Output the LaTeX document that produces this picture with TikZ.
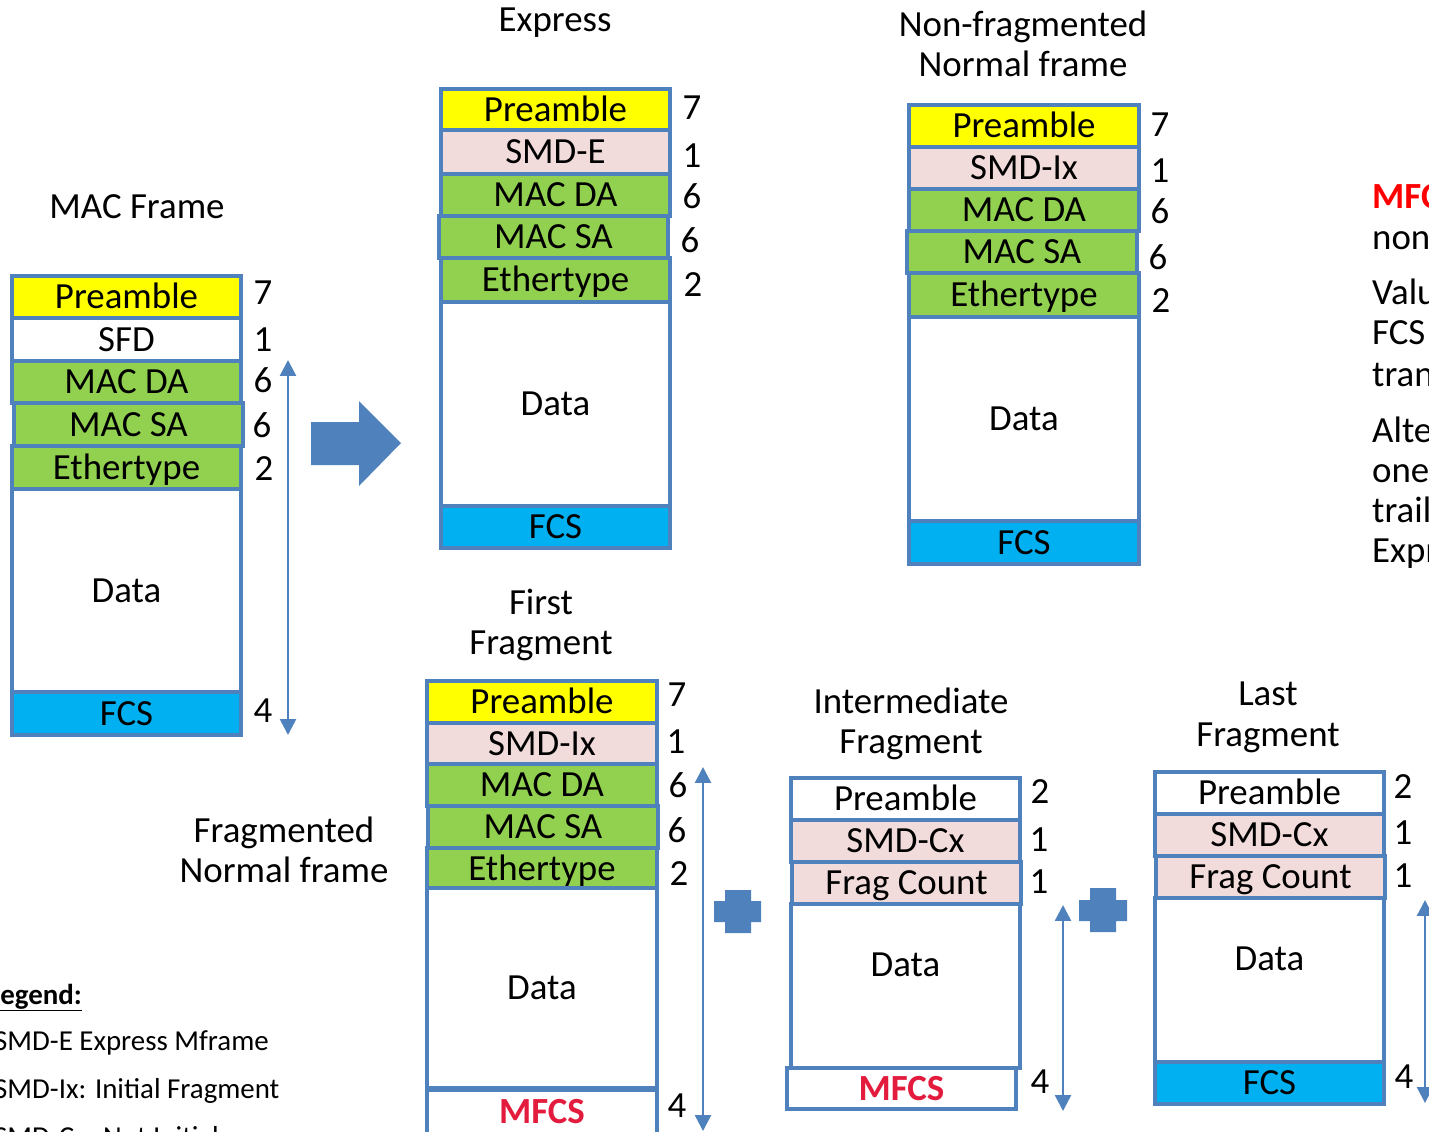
\documentclass[tikz,border=0pt]{standalone}
\usepackage{fontspec}
\setmainfont{Carlito}
\usetikzlibrary{arrows.meta}
\definecolor{bord}{HTML}{4F81BD}
\definecolor{prec}{HTML}{FFFF00}
\definecolor{smdc}{HTML}{F2DCDB}
\definecolor{grnc}{HTML}{92D050}
\definecolor{fcsc}{HTML}{00B0F0}
\definecolor{mfcsc}{HTML}{E31B3C}
\definecolor{redc}{HTML}{FF0000}
\tikzset{
  fld/.style={draw=bord, line width=4, minimum width=230, inner sep=0,
    font=\fontsize{37}{41}\selectfont, text height=23.5, text depth=0},
  lbl/.style={inner sep=0, font=\fontsize{37}{41}\selectfont, text height=23.5, text depth=0},
  lgd/.style={inner sep=0, anchor=west, font=\fontsize{29}{33}\selectfont, text height=18.5, text depth=0},
  side/.style={inner sep=0, anchor=west, font=\fontsize{37}{41}\selectfont, text height=23.5, text depth=0},
  dimarrow/.style={draw=bord, line width=2.5, {Triangle[width=16,length=16]}-{Triangle[width=16,length=16]}},
  shapefill/.style={fill=bord, draw=none},
  mf/.style={text=mfcsc, font=\fontsize{37}{41}\selectfont\bfseries}
}
\begin{document}
\begin{tikzpicture}[x=1bp,y=-1bp]
\path[use as bounding box] (0,0) rectangle (1429,1131);
\clip (0,0) rectangle (1429,1131);
\fill[white] (0,0) rectangle (1429,1131);

% ---------- MAC Frame ----------
\node[lbl] (tmac) at (137,207) {MAC Frame};
\node[fld, fill=prec, minimum height=42] (m1) at (126.5,297) {Preamble};
\node[fld, fill=white, minimum height=43] (m2) at (126.5,339.5) {SFD};
\node[fld, fill=grnc, minimum height=42] (m3) at (126.5,382) {MAC DA};
\node[fld, fill=grnc, minimum height=43] (m4) at (128.5,424.5) {MAC SA};
\node[fld, fill=grnc, minimum height=43] (m5) at (126.5,467.5) {Ethertype};
\node[fld, fill=white, minimum height=203] (m6) at (126.5,590.5) {Data};
\node[fld, fill=fcsc, minimum height=43] (m7) at (126.5,713.5) {FCS};
\node[lbl] (mn1) at (263,293) {7};
\node[lbl] (mn2) at (263,340) {1};
\node[lbl] (mn3) at (263,381) {6};
\node[lbl] (mn4) at (262,426) {6};
\node[lbl] (mn5) at (264,469) {2};
\node[lbl] (mn7) at (263,711) {4};
\coordinate (ma1) at (288,360);
\coordinate (ma2) at (288,735);
\draw[dimarrow] (ma1) -- (ma2);

% big arrow
\path[shapefill] (311,422) -- (359,422) -- (359,401) -- (401,443) -- (359,486) -- (359,465) -- (311,465) -- cycle;

% ---------- Express ----------
\node[lbl] (texp) at (555,20) {Express};
\node[fld, fill=prec, minimum height=41] (e1) at (555.5,109.5) {Preamble};
\node[fld, fill=smdc, minimum height=44] (e2) at (555.5,152) {SMD-E};
\node[fld, fill=grnc, minimum height=42] (e3) at (555.5,195) {MAC DA};
\node[fld, fill=grnc, minimum height=42] (e4) at (553.5,237) {MAC SA};
\node[fld, fill=grnc, minimum height=44] (e5) at (555.5,280) {Ethertype};
\node[fld, fill=white, minimum height=204] (e6) at (555.5,404) {Data};
\node[fld, fill=fcsc, minimum height=42] (e7) at (555.5,527) {FCS};
\node[lbl] (en1) at (692,108) {7};
\node[lbl] (en2) at (692,156) {1};
\node[lbl] (en3) at (692,197) {6};
\node[lbl] (en4) at (690,241) {6};
\node[lbl] (en5) at (693,285) {2};

% ---------- Non-fragmented ----------
\node[lbl] (tnf1) at (1023,25) {Non-fragmented};
\node[lbl] (tnf2) at (1023,65) {Normal frame};
\node[fld, fill=prec, minimum height=42] (n1) at (1024,126) {Preamble};
\node[fld, fill=smdc, minimum height=42] (n2) at (1024,168) {SMD-Ix};
\node[fld, fill=grnc, minimum height=42] (n3) at (1024,210) {MAC DA};
\node[fld, fill=grnc, minimum height=42] (n4) at (1022,252) {MAC SA};
\node[fld, fill=grnc, minimum height=44] (n5) at (1024,295) {Ethertype};
\node[fld, fill=white, minimum height=204] (n6) at (1024,419) {Data};
\node[fld, fill=fcsc, minimum height=43] (n7) at (1024,542.5) {FCS};
\node[lbl] (nn1) at (1160,125) {7};
\node[lbl] (nn2) at (1160,171) {1};
\node[lbl] (nn3) at (1160,212) {6};
\node[lbl] (nn4) at (1158,258) {6};
\node[lbl] (nn5) at (1161,301) {2};

% ---------- Side text (cut by the right edge, as in the reference) ----------
\node[side, font=\fontsize{37}{41}\selectfont\bfseries, text=redc] (s1) at (1372,197) {MFCS};
\node[side] (s2) at (1372,238) {none};
\node[side] (s3) at (1372,293) {Value};
\node[side] (s4) at (1372,333) {FCS};
\node[side] (s5) at (1372,375) {trans};
\node[side] (s6) at (1372,431) {Alter};
\node[side] (s7) at (1372,471) {one};
\node[side] (s8) at (1372,511) {trail};
\node[side] (s9) at (1372,551) {Express};

% ---------- Fragmented label ----------
\node[lbl] (tfr1) at (284,831) {Fragmented};
\node[lbl] (tfr2) at (284,871) {Normal frame};

% ---------- First Fragment ----------
\node[lbl] (tff1) at (541,603) {First};
\node[lbl] (tff2) at (541,643) {Fragment};
\node[fld, fill=prec, minimum height=42] (f1) at (542,702) {Preamble};
\node[fld, fill=smdc, minimum height=41] (f2) at (542,743.5) {SMD-Ix};
\node[fld, fill=grnc, minimum height=42] (f3) at (542,785) {MAC DA};
\node[fld, fill=grnc, minimum height=42] (f4) at (543,827) {MAC SA};
\node[fld, fill=grnc, minimum height=42] (f5) at (542,869) {Ethertype};
\node[fld, fill=white, minimum height=200] (f6) at (542,988) {Data};
\node[fld, fill=white, minimum height=44, mf] (f7) at (542,1112) {MFCS};
\node[lbl] (fn1) at (677,695) {7};
\node[lbl] (fn2) at (676,742) {1};
\node[lbl] (fn3) at (678,786) {6};
\node[lbl] (fn4) at (677,831) {6};
\node[lbl] (fn5) at (679,874) {2};
\node[lbl] (fn7) at (677,1106) {4};
\coordinate (fa1) at (703,767);
\coordinate (fa2) at (703,1131);
\draw[dimarrow] (fa1) -- (fa2);

% plus 1
\path[shapefill] (725,890) -- (751,890) -- (751,901) -- (761,901) -- (761,922) -- (751,922) -- (751,933) -- (725,933) -- (725,922) -- (714,922) -- (714,901) -- (725,901) -- cycle;

% ---------- Intermediate Fragment ----------
\node[lbl] (tif1) at (911,702) {Intermediate};
\node[lbl] (tif2) at (911,742) {Fragment};
\node[fld, fill=white, minimum height=42] (i1) at (905.5,799) {Preamble};
\node[fld, fill=smdc, minimum height=42] (i2) at (905.5,841) {SMD-Cx};
\node[fld, fill=smdc, minimum height=42] (i3) at (906.5,883) {Frag Count};
\node[fld, fill=white, minimum height=164] (i4) at (905.5,986) {};
\node[lbl] (i4t) at (905.5,965) {Data};
\node[fld, fill=white, minimum height=41, minimum width=229, mf] (i5) at (901.5,1088.5) {MFCS};
\node[lbl] (in1) at (1040,792) {2};
\node[lbl] (in2) at (1039,840) {1};
\node[lbl] (in3) at (1039,882) {1};
\node[lbl] (in5) at (1040,1082) {4};
\coordinate (ia1) at (1063,905);
\coordinate (ia2) at (1063,1111);
\draw[dimarrow] (ia1) -- (ia2);

% plus 2
\path[shapefill] (1090,888) -- (1116,888) -- (1116,900) -- (1127,900) -- (1127,921) -- (1116,921) -- (1116,932) -- (1090,932) -- (1090,921) -- (1079,921) -- (1079,900) -- (1090,900) -- cycle;

% ---------- Last Fragment ----------
\node[lbl] (tlf1) at (1268,694) {Last};
\node[lbl] (tlf2) at (1268,735) {Fragment};
\node[fld, fill=white, minimum height=42] (l1) at (1269.5,793) {Preamble};
\node[fld, fill=smdc, minimum height=42] (l2) at (1269.5,835) {SMD-Cx};
\node[fld, fill=smdc, minimum height=42] (l3) at (1270.5,877) {Frag Count};
\node[fld, fill=white, minimum height=164] (l4) at (1269.5,980) {};
\node[lbl] (l4t) at (1269.5,959) {Data};
\node[fld, fill=fcsc, minimum height=42] (l5) at (1269.5,1083) {FCS};
\node[lbl] (ln1) at (1403,787) {2};
\node[lbl] (ln2) at (1403,833) {1};
\node[lbl] (ln3) at (1403,876) {1};
\node[lbl] (ln5) at (1404,1077) {4};
\coordinate (la1) at (1425,900);
\coordinate (la2) at (1425,1103);
\draw[dimarrow] (la1) -- (la2);

% ---------- Legend ----------
\node[lgd, font=\fontsize{29}{33}\selectfont\bfseries] (lg0) at (-12,995) {\underline{Legend:}};
\node[lgd] (lg1) at (-6,1041) {SMD-E Express Mframe};
\node[lgd] (lg2) at (-6,1089) {SMD-Ix: Initial Fragment};
\node[lgd] (lg3) at (-6,1137) {SMD-Cx: Not Initial};
\end{tikzpicture}
\end{document}
